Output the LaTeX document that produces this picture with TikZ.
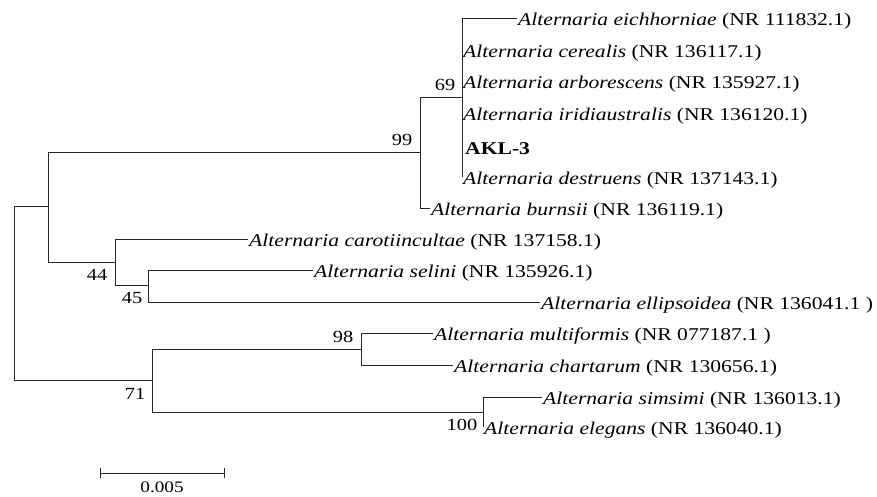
\documentclass[tikz,border=0pt]{standalone}
\usepackage{fontspec}
\setmainfont{Liberation Serif}[FakeStretch=1.2]
\begin{document}
\begin{tikzpicture}[x=1pt,y=-1pt,
  br/.style={draw=black!85, line width=0.8pt},
  leaf/.style={anchor=west, inner xsep=1pt, inner ysep=0pt, text height=14pt, text depth=0pt, font=\fontsize{18}{20}\selectfont},
  boot/.style={font=\fontsize{17}{19}\selectfont, inner sep=0pt},
]
\useasboundingbox (0,0) rectangle (877,496);
% internal nodes
\coordinate (r) at (14,293);
\coordinate (a) at (48,206);
\coordinate (n99) at (420,152);
\coordinate (n69) at (462,97);
\coordinate (n44) at (115,262);
\coordinate (n45) at (148,285);
\coordinate (n71) at (152,380);
\coordinate (n98) at (361,349);
\coordinate (n100) at (483,412);
% leaves
\node[leaf] (eich) at (517,18) {\textit{Alternaria eichhorniae} (NR 111832.1)};
\node[leaf] (cere) at (462,50) {\textit{Alternaria cerealis} (NR 136117.1)};
\node[leaf] (arbo) at (462,81) {\textit{Alternaria arborescens} (NR 135927.1)};
\node[leaf] (irid) at (462,113) {\textit{Alternaria iridiaustralis} (NR 136120.1)};
\node[leaf, inner xsep=3pt] (akl) at (462,147) {\textbf{AKL-3}};
\node[leaf] (dest) at (462,177) {\textit{Alternaria destruens} (NR 137143.1)};
\node[leaf] (burn) at (430,208) {\textit{Alternaria burnsii} (NR 136119.1)};
\node[leaf] (caro) at (248,239) {\textit{Alternaria carotiincultae} (NR 137158.1)};
\node[leaf] (seli) at (313,270) {\textit{Alternaria selini} (NR 135926.1)};
\node[leaf] (elli) at (540,302) {\textit{Alternaria ellipsoidea} (NR 136041.1 )};
\node[leaf] (mult) at (433,333) {\textit{Alternaria multiformis} (NR 077187.1 )};
\node[leaf] (char) at (453,365) {\textit{Alternaria chartarum} (NR 130656.1)};
\node[leaf] (sims) at (542,397) {\textit{Alternaria simsimi} (NR 136013.1)};
\node[leaf] (eleg) at (483,427) {\textit{Alternaria elegans} (NR 136040.1)};
% branches
\draw[br] (r) |- (a);
\draw[br] (r) |- (n71);
\draw[br] (a) |- (n99);
\draw[br] (a) |- (n44);
\draw[br] (n99) |- (n69);
\draw[br] (n99) |- (burn.west);
\draw[br] (n69) |- (eich.west);
\draw[br] (n69) |- (cere.west);
\draw[br] (n69) |- (arbo.west);
\draw[br] (n69) |- (irid.west);
\draw[br] (n69) |- (akl.west);
\draw[br] (n69) |- (dest.west);
\draw[br] (n44) |- (caro.west);
\draw[br] (n44) |- (n45);
\draw[br] (n45) |- (seli.west);
\draw[br] (n45) |- (elli.west);
\draw[br] (n71) |- (n98);
\draw[br] (n71) |- (n100);
\draw[br] (n98) |- (mult.west);
\draw[br] (n98) |- (char.west);
\draw[br] (n100) |- (sims.west);
\draw[br] (n100) |- (eleg.west);
% bootstrap values
\node[boot] (b99) at (402,140) {99};
\node[boot] (b69) at (445,85) {69};
\node[boot] (b44) at (97,275) {44};
\node[boot] (b45) at (132,298) {45};
\node[boot] (b71) at (135,394) {71};
\node[boot] (b98) at (343,337) {98};
\node[boot] (b100) at (462,425) {100};
% scale bar
\coordinate (s1) at (100,473);
\coordinate (s2) at (224,473);
\draw[br] (s1) -- (s2);
\draw[br] ([yshift=-5pt]s1) -- ([yshift=5pt]s1);
\draw[br] ([yshift=-5pt]s2) -- ([yshift=5pt]s2);
\node[boot, font=\fontsize{16}{18}\selectfont] (sc) at (162,487) {0.005};
\end{tikzpicture}
\end{document}
